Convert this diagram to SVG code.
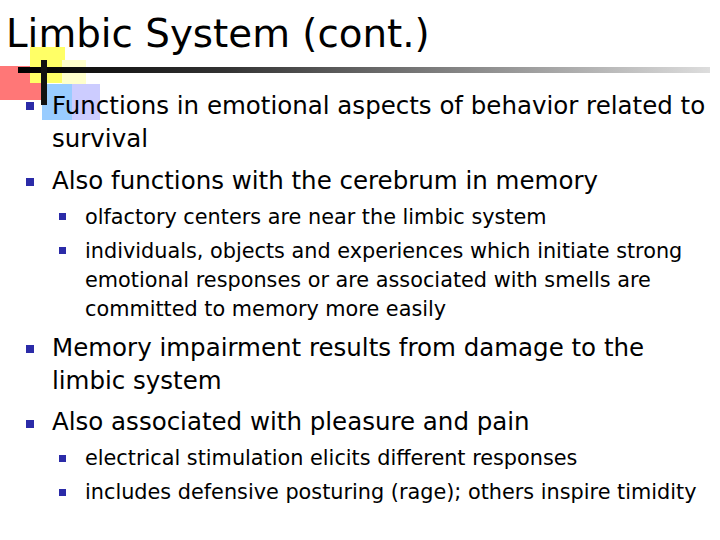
<svg xmlns="http://www.w3.org/2000/svg" width="720" height="540" viewBox="0 0 720 540">
<defs>
<linearGradient id="g" x1="0" x2="1"><stop offset="0" stop-color="#000"/><stop offset="0.3" stop-color="#333"/><stop offset="1" stop-color="#ddd"/></linearGradient>
<style>
.t{font-family:"DejaVu Sans",sans-serif;fill:#000}
.m{font-size:24.5px}.s{font-size:20.8px}
.b{fill:#2b2ba8}
</style>
</defs>
<rect width="720" height="540" fill="#fff"/>
<g id="deco">
<rect x="0" y="66" width="45" height="34" fill="#ff7777"/>
<rect x="30" y="47" width="35" height="36" fill="#ffff66"/>
<rect x="62" y="60" width="24" height="24" fill="#ffffcc"/>
<rect x="42" y="84" width="30" height="36" fill="#99ccff"/>
<rect x="72" y="84" width="28" height="36" fill="#ccccff"/>
<rect x="18" y="67" width="692" height="6" fill="url(#g)"/>
<rect x="41" y="60" width="6" height="45" fill="#111"/>
</g>
<g id="title"><text class="t" x="6" y="47" font-size="38.8">Limbic System (cont.)</text></g>
<g id="body">
<rect class="b" x="26" y="102" width="8" height="8"/>
<text class="t m" x="52" y="114">Functions in emotional aspects of behavior related to</text>
<text class="t m" x="52" y="147">survival</text>
<rect class="b" x="26" y="178" width="8" height="8"/>
<text class="t m" x="52" y="189">Also functions with the cerebrum in memory</text>
<rect class="b" x="59" y="213" width="7" height="7"/>
<text class="t s" x="85" y="224">olfactory centers are near the limbic system</text>
<rect class="b" x="59" y="247" width="7" height="7"/>
<text class="t s" x="85" y="258">individuals, objects and experiences which initiate strong</text>
<text class="t s" x="85" y="287">emotional responses or are associated with smells are</text>
<text class="t s" x="85" y="316">committed to memory more easily</text>
<rect class="b" x="26" y="345" width="8" height="8"/>
<text class="t m" x="52" y="356">Memory impairment results from damage to the</text>
<text class="t m" x="52" y="389">limbic system</text>
<rect class="b" x="26" y="420" width="8" height="8"/>
<text class="t m" x="52" y="430">Also associated with pleasure and pain</text>
<rect class="b" x="59" y="455" width="7" height="7"/>
<text class="t s" x="85" y="465">electrical stimulation elicits different responses</text>
<rect class="b" x="59" y="489" width="7" height="7"/>
<text class="t s" x="85" y="499">includes defensive posturing (rage); others inspire timidity</text>
</g>
</svg>
